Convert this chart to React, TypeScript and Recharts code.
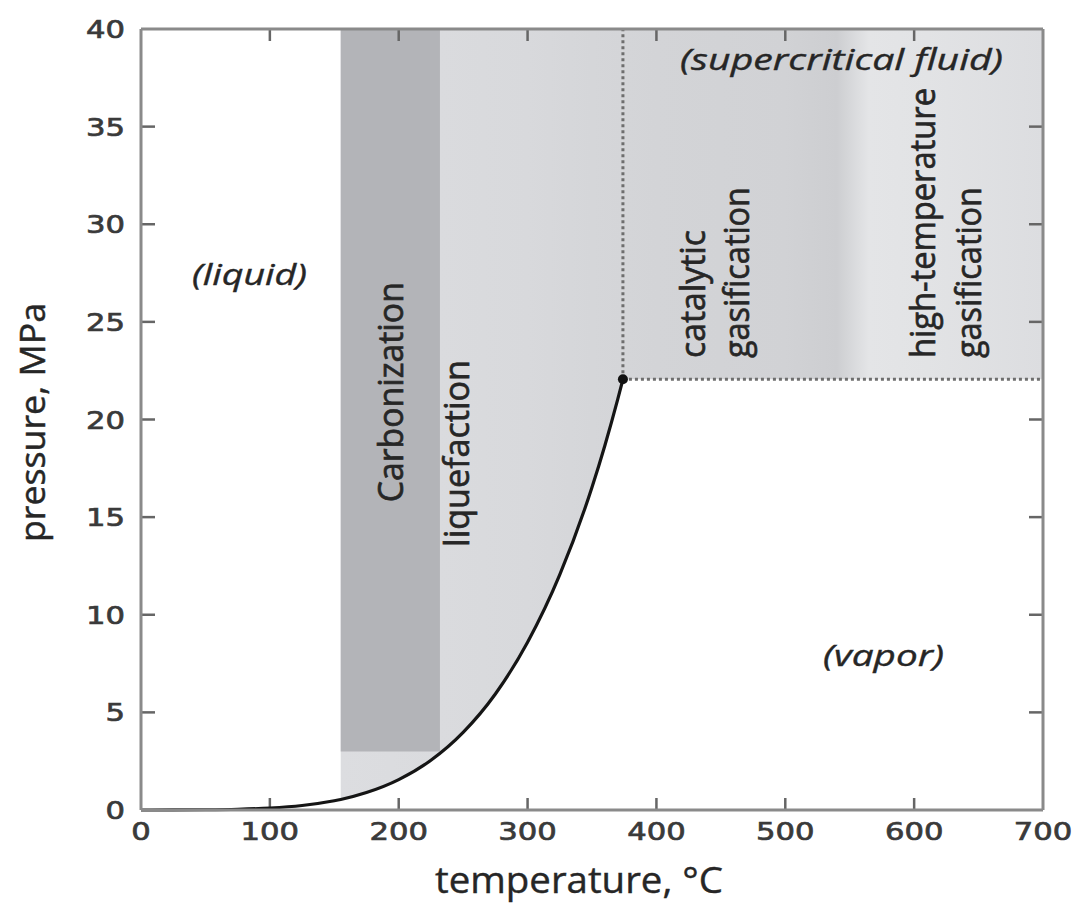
import { ComposedChart, Area, Line, XAxis, YAxis, ReferenceLine, ReferenceDot } from 'recharts';

// water saturation curve (°C, MPa)
const satTemp = [0, 25, 50, 75, 100, 125, 150, 155, 175, 200, 225, 250, 275, 300, 325, 350, 360, 370, 374];
const satPress = [0.0006, 0.003, 0.012, 0.039, 0.101, 0.232, 0.476, 0.54, 0.892, 1.555, 2.548, 3.976, 5.942, 8.588, 12.05, 16.53, 18.67, 21.04, 22.06];

const xTicks = [0, 100, 200, 300, 400, 500, 600, 700];
const yTicks = [0, 5, 10, 15, 20, 25, 30, 35, 40];

const criticalT = 374;
const criticalP = 22.06;
const maxT = 700;
const maxP = 40;

// process windows
const processStartT = 155;
const carbonEndT = 232;
const carbonMinP = 3;

const curveData = satTemp.map((t, i) => ({ t, p: satPress[i] }));
const subcriticalZone = curveData.filter((d) => d.t >= processStartT).map((d) => ({ t: d.t, low: d.p, high: maxP }));
const supercriticalZone = [
    { t: criticalT, low: criticalP, high: maxP },
    { t: maxT, low: criticalP, high: maxP },
];
const carbonZone = [
    { t: processStartT, low: carbonMinP, high: maxP },
    { t: carbonEndT, low: carbonMinP, high: maxP },
];

// layout
const W = 1066;
const H = 896;
const M = { top: 20, right: 30, left: 63, bottom: 44 };
const Y_AXIS_W = 70;
const X_AXIS_H = 50;
const plotLeft = M.left + Y_AXIS_W;
const plotW = W - M.right - 1 - plotLeft;
const plotH = H - M.top - 1 - M.bottom - X_AXIS_H;
const tx = (t: number) => plotLeft + (t / maxT) * plotW;

// inward tick lengths (px) expressed in data units
const xTickLen = (12 / plotH) * maxP;
const yTickLen = (14 / plotW) * maxT;

const gradStops = [
    { t: 155, c: '#dcdde0' },
    { t: 232, c: '#dadbde' },
    { t: 300, c: '#d8d9dc' },
    { t: 350, c: '#d5d6d9' },
    { t: 400, c: '#d3d4d7' },
    { t: 500, c: '#d1d2d5' },
    { t: 540, c: '#cdced1' },
    { t: 565, c: '#e4e5e7' },
    { t: 610, c: '#e2e3e5' },
    { t: 700, c: '#dcdde0' },
];

const textFont = '"Open Sans", "Liberation Sans", sans-serif';
const textColor = '#262626';

type Note = { text: string; t: number; p: number; len: number; rot?: boolean; italic?: boolean; size: number };

const notes: Note[] = [
    { text: '(liquid)', t: 84.2, p: 26.9, len: 115, italic: true, size: 30 },
    { text: '(supercritical fluid)', t: 543.6, p: 37.9, len: 323, italic: true, size: 30 },
    { text: '(vapor)', t: 576.2, p: 7.4, len: 121, italic: true, size: 30 },
    { text: 'Carbonization', t: 203.3, p: 21.4, len: 220, rot: true, size: 31 },
    { text: 'liquefaction', t: 254.5, p: 18.26, len: 187, rot: true, size: 31 },
    { text: 'catalytic', t: 437.7, p: 23.15, len: 128, rot: true, size: 31 },
    { text: 'gasification', t: 471.8, p: 23.15, len: 171, rot: true, size: 31 },
    { text: 'high-temperature', t: 616.2, p: 23.15, len: 270, rot: true, size: 31 },
    { text: 'gasification', t: 651.9, p: 23.15, len: 171, rot: true, size: 31 },
];

const NoteShape = (n: Note) => (props: any) => {
    const { cx, cy } = props;
    if (n.rot) {
        // labels on the critical-point row start at the bottom, the others are centred
        const anchor = n.p > 23 ? 'start' : 'middle';
        return (
            <text
                transform={`translate(${cx},${cy}) scale(1.12,1) rotate(-90)`}
                textAnchor={anchor}
                fontFamily={textFont}
                fontSize={n.size}
                fill={textColor}
                stroke={textColor}
                strokeWidth={0.6}
                textLength={n.len}
                lengthAdjust="spacingAndGlyphs"
            >
                {n.text}
            </text>
        );
    }
    return (
        <text
            x={cx}
            y={cy}
            textAnchor="middle"
            fontFamily={textFont}
            fontStyle={n.italic ? 'italic' : 'normal'}
            fontSize={n.size}
            fill={textColor}
            stroke={textColor}
            strokeWidth={0.4}
            textLength={n.len}
            lengthAdjust="spacingAndGlyphs"
        >
            {n.text}
        </text>
    );
};

const tickStyle = {
    fontFamily: '"DejaVu Sans", Verdana, sans-serif',
    fontSize: 25,
    fill: '#3a3a3a',
    stroke: '#3a3a3a',
    strokeWidth: 0.7,
};

const LeftTick = (props: any) => {
    const { x, y, payload } = props;
    const s = String(payload.value);
    return (
        <text x={x - 16} y={y + 9} textAnchor="end" {...tickStyle} textLength={s.length * 19.5} lengthAdjust="spacingAndGlyphs">
            {s}
        </text>
    );
};

const BottomTick = (props: any) => {
    const { x, y, payload } = props;
    const s = String(payload.value);
    return (
        <text x={x} y={y + 30} textAnchor="middle" {...tickStyle} textLength={s.length * 19.5} lengthAdjust="spacingAndGlyphs">
            {s}
        </text>
    );
};

const axisLine = { stroke: '#8a8a8a', strokeWidth: 3 };
const tickMark = { stroke: '#666666', strokeWidth: 2.5, ifOverflow: 'visible' as const };
const dotted = { stroke: '#6e6e6e', strokeWidth: 3, strokeDasharray: '3 3' };

const innerX = xTicks.slice(1, -1);
const innerY = yTicks.slice(1, -1);

export default function App() {
    return (
        <div style={{ width: W, height: H, background: '#fff' }}>
            <ComposedChart width={W} height={H} margin={M}>
                <defs>
                    <linearGradient id="zoneGrad" gradientUnits="userSpaceOnUse" x1={tx(processStartT)} y1={0} x2={tx(maxT)} y2={0}>
                        {gradStops.map((g) => (
                            <stop key={g.t} offset={(g.t - processStartT) / (maxT - processStartT)} stopColor={g.c} />
                        ))}
                    </linearGradient>
                </defs>
                <XAxis
                    dataKey="t"
                    type="number"
                    domain={[0, maxT]}
                    ticks={xTicks}
                    height={X_AXIS_H}
                    axisLine={axisLine}
                    tickLine={false}
                    tickSize={0}
                    tickMargin={0}
                    tick={<BottomTick />}
                    interval={0}
                    label={{
                        content: () => (
                            <text
                                x={571}
                                y={885}
                                textAnchor="middle"
                                fontFamily={textFont}
                                fontSize={36}
                                fill={textColor}
                                stroke={textColor}
                                strokeWidth={0.4}
                                textLength={288}
                                lengthAdjust="spacingAndGlyphs"
                            >
                                temperature, °C
                            </text>
                        ),
                    }}
                />
                <XAxis
                    xAxisId="top"
                    orientation="top"
                    type="number"
                    domain={[0, maxT]}
                    height={1}
                    axisLine={axisLine}
                    tickLine={false}
                    tick={false}
                />
                <YAxis
                    type="number"
                    domain={[0, maxP]}
                    ticks={yTicks}
                    width={Y_AXIS_W}
                    axisLine={axisLine}
                    tickLine={false}
                    tickSize={0}
                    tickMargin={0}
                    tick={<LeftTick />}
                    interval={0}
                    label={{
                        content: () => (
                            <text
                                transform="translate(37,414.5) scale(1.12,1) rotate(-90)"
                                textAnchor="middle"
                                fontFamily={textFont}
                                fontSize={31}
                                fill={textColor}
                                stroke={textColor}
                                strokeWidth={0.4}
                                textLength={239}
                                lengthAdjust="spacingAndGlyphs"
                            >
                                pressure, MPa
                            </text>
                        ),
                    }}
                />
                <YAxis
                    yAxisId="right"
                    orientation="right"
                    type="number"
                    domain={[0, maxP]}
                    width={1}
                    axisLine={axisLine}
                    tickLine={false}
                    tick={false}
                />
                <Area
                    data={subcriticalZone}
                    dataKey={(d: any) => [d.low, d.high]}
                    type="monotone"
                    fill="url(#zoneGrad)"
                    fillOpacity={1}
                    stroke="none"
                    isAnimationActive={false}
                />
                <Area
                    data={supercriticalZone}
                    dataKey={(d: any) => [d.low, d.high]}
                    type="linear"
                    fill="url(#zoneGrad)"
                    fillOpacity={1}
                    stroke="none"
                    isAnimationActive={false}
                />
                <Area
                    data={carbonZone}
                    dataKey={(d: any) => [d.low, d.high]}
                    type="linear"
                    fill="#b3b4b8"
                    fillOpacity={1}
                    stroke="none"
                    isAnimationActive={false}
                />
                {/* inward tick marks on all four sides */}
                {innerX.map((t) => (
                    <ReferenceLine key={`b${t}`} segment={[{ x: t, y: 0.01 }, { x: t, y: xTickLen }]} {...tickMark} />
                ))}
                {innerX.map((t) => (
                    <ReferenceLine key={`t${t}`} segment={[{ x: t, y: maxP - 0.01 }, { x: t, y: maxP - xTickLen }]} {...tickMark} />
                ))}
                {innerY.map((p) => (
                    <ReferenceLine key={`l${p}`} segment={[{ x: 0.01, y: p }, { x: yTickLen, y: p }]} {...tickMark} />
                ))}
                {innerY.map((p) => (
                    <ReferenceLine key={`r${p}`} segment={[{ x: maxT - 0.01, y: p }, { x: maxT - yTickLen, y: p }]} {...tickMark} />
                ))}
                <ReferenceLine segment={[{ x: criticalT, y: criticalP }, { x: criticalT, y: maxP }]} {...dotted} />
                <ReferenceLine segment={[{ x: criticalT, y: criticalP }, { x: maxT, y: criticalP }]} {...dotted} />
                <Line
                    data={curveData}
                    dataKey="p"
                    type="monotone"
                    stroke="#151515"
                    strokeWidth={3.2}
                    dot={false}
                    activeDot={false}
                    isAnimationActive={false}
                />
                <ReferenceDot x={criticalT} y={criticalP} r={5} fill="#111" stroke="none" />
                {notes.map((n, i) => (
                    <ReferenceDot key={i} x={n.t} y={n.p} r={1} shape={NoteShape(n)} />
                ))}
            </ComposedChart>
        </div>
    );
}
